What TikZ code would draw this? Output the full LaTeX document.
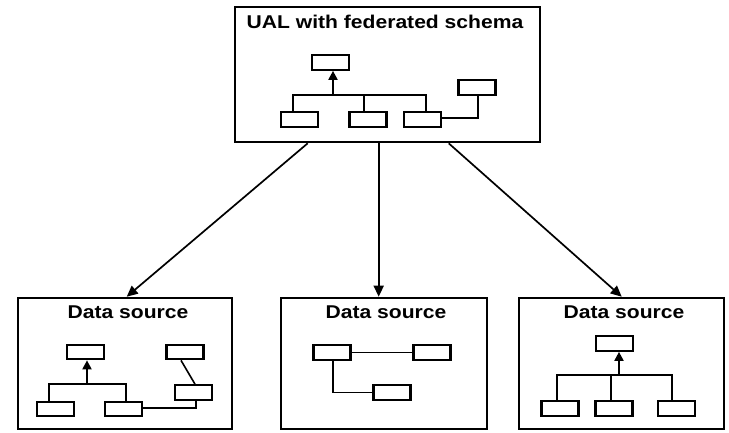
\documentclass[tikz,border=0pt]{standalone}
\usepackage{fontspec}
\setmainfont{Liberation Sans}
\usetikzlibrary{arrows.meta,calc}
\begin{document}
\begin{tikzpicture}[x=1pt,y=-1pt,
  panel/.style={draw, line width=2.6pt, inner sep=0pt},
  cls/.style={draw, line width=2.2pt, minimum width=37pt, minimum height=14.5pt, inner sep=0pt},
  ln/.style={line width=1.6pt},
  inh/.style={line width=2pt, -{Triangle[length=9pt,width=9pt]}},
  flow/.style={line width=1.7pt, -{Triangle[length=11pt,width=10pt]}},
  ttl/.style={anchor=base, inner sep=0pt, font=\bfseries\fontsize{18.5}{20}\selectfont}]
\useasboundingbox (0,0) rectangle (729,432);

% panels
\node[panel, minimum width=305pt, minimum height=135pt] (ual) at (387.5,74.5) {};
\node[panel, minimum width=214pt, minimum height=131pt] (ds1) at (125,363.5) {};
\node[panel, minimum width=206pt, minimum height=131pt] (ds2) at (384,363.5) {};
\node[panel, minimum width=205pt, minimum height=131pt] (ds3) at (621.5,363.5) {};

% titles
\node[ttl] (t0) at (385,28) {\scalebox{1.14}[1]{UAL with federated schema}};
\node[ttl] (t1) at (128,318) {\scalebox{1.14}[1]{Data source}};
\node[ttl] (t2) at (386,318) {\scalebox{1.14}[1]{Data source}};
\node[ttl] (t3) at (624,318) {\scalebox{1.14}[1]{Data source}};

% federated schema
\node[cls] (P)  at (330.5,62.5) {};
\node[cls] (C1) at (299.5,119.5) {};
\node[cls] (C2) at (368,119.5) {};
\node[cls] (C3) at (422.5,119.5) {};
\node[cls] (R)  at (477,87.5) {};
\coordinate (b0) at (333,95);
\draw[inh] (b0) -- (b0 |- P.south);
\draw[ln] ($(C1.north)+(-6.5,0)$) |- (b0) -| ($(C3.north)+(3.5,0)$);
\draw[ln] ($(C2.north)+(-4,0)$) -- ++(0,-16);
\draw[ln] ($(C3.east)+(0,-1.5)$) -| ($(R.south)+(1,0)$);

% source 1
\node[cls] (LP)  at (85.5,352) {};
\node[cls] (LR)  at (185,352) {};
\node[cls] (LC1) at (55.5,409) {};
\node[cls] (LC2) at (123.5,409) {};
\node[cls] (LM)  at (193.5,392.5) {};
\coordinate (b1) at (87,384);
\draw[inh] (b1) -- (b1 |- LP.south);
\draw[ln] ($(LC1.north)+(-6.5,0)$) |- (b1) -| ($(LC2.north)+(2.5,0)$);
\draw[ln] ($(LR.south)+(-4,0)$) -- ($(LM.north)+(1.5,0)$);
\draw[ln] ($(LC2.east)+(0,-1)$) -| ($(LM.south)+(2.5,0)$);

% source 2
\node[cls] (MA) at (332,352.5) {};
\node[cls] (MB) at (432,352.5) {};
\node[cls] (MC) at (392,392.5) {};
\draw[ln] (MA.east) -- (MB.west);
\draw[ln] ($(MA.south)+(1,0)$) |- (MC.west);

% source 3
\node[cls] (RP)  at (614.5,343.5) {};
\node[cls] (RC1) at (560,408.5) {};
\node[cls] (RC2) at (614,408.5) {};
\node[cls] (RC3) at (676.5,408.5) {};
\coordinate (b3) at (619,375);
\draw[inh] (b3) -- (b3 |- RP.south);
\draw[ln] ($(RC1.north)+(-3,0)$) |- (b3) -| ($(RC3.north)+(-4.5,0)$);
\draw[ln] ($(RC2.north)+(-3,0)$) -- ++(0,-25);

% links from the federated layer to the sources
\draw[flow] ($(ual.south west)+(74,0)$) -- ($(ds1.north west)+(110,0)$);
\draw[flow] ($(ual.south west)+(145,0)$) -- ($(ds2.north west)+(99,0)$);
\draw[flow] ($(ual.south west)+(215,0)$) -- ($(ds3.north west)+(104,0)$);
\end{tikzpicture}
\end{document}
